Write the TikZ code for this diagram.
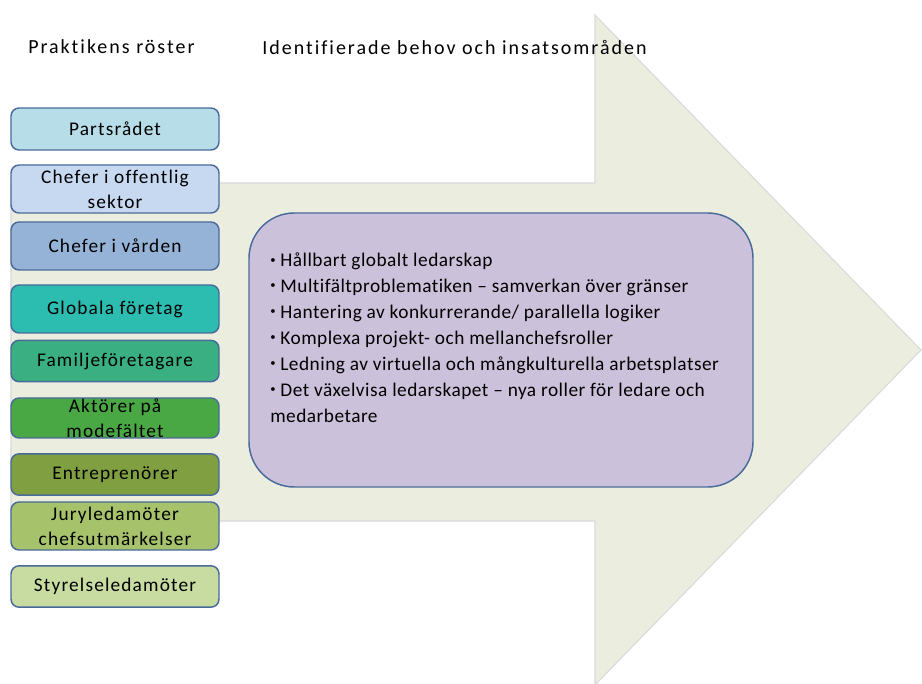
\documentclass[tikz,border=0pt]{standalone}
\usepackage{fontspec}
\setmainfont{Carlito}
\newfontfamily\headfont[LetterSpace=10, Ligatures=NoCommon]{Carlito}
\newfontfamily\rosterfont[LetterSpace=6, Ligatures=NoCommon]{Carlito}
\newfontfamily\behovfont[LetterSpace=2.5, Ligatures=NoCommon]{Carlito}
\usepackage{tikz}
\usetikzlibrary{positioning}

\definecolor{arrowfill}{HTML}{EBEEDF}
\definecolor{arrowline}{HTML}{D9D9D9}
\definecolor{rosterline}{HTML}{4A6A9C}
\definecolor{cPart}{HTML}{B7DDE8}
\definecolor{cOffentlig}{HTML}{C6D9F1}
\definecolor{cVarden}{HTML}{95B3D7}
\definecolor{cGlobal}{HTML}{2CBDB0}
\definecolor{cFamilj}{HTML}{3AAF82}
\definecolor{cAktor}{HTML}{4AA844}
\definecolor{cEntre}{HTML}{7F9F40}
\definecolor{cJury}{HTML}{A6C26B}
\definecolor{cStyrelse}{HTML}{C8DCA2}
\definecolor{behovfill}{HTML}{CCC1DA}

\newcommand{\pkt}{\raisebox{0.2em}{\fontsize{8}{8}\selectfont•}\hspace{0.25em}}

\tikzset{
	roster/.style={draw=rosterline, line width=1.1pt, rounded corners=6pt,
		minimum width=156pt, inner sep=0pt, align=center,
		font=\rosterfont\fontsize{14.5}{18.75}\selectfont},
	header/.style={anchor=west, inner sep=0pt, font=\headfont\fontsize{15}{17}\selectfont},
}

\begin{document}
\begin{tikzpicture}[x=0.75pt, y=-0.75pt]
				\useasboundingbox (0,0) rectangle (922,684);
				% the big arrow
				\draw[fill=arrowfill, draw=arrowline, line width=0.8pt]
					(11,183) -- (595,183) -- (595,15) -- (921,350) -- (595,685)
					-- (595,521) -- (11,521) -- cycle;
				% headers
				\node[header] (roster) at (28,47) {Praktikens röster};
				\node[header] (omraden) at (262,47) {Identifierade behov och insatsområden};
				% voices of practice
				\node[roster, fill=cPart, minimum height=31.5pt] (partsradet) at (115,129) {Partsrådet};
				\node[roster, fill=cOffentlig, minimum height=36pt] (offentlig) at (115,189) {Chefer i offentlig\\sektor};
				\node[roster, fill=cVarden, minimum height=36pt] (varden) at (115,246) {Chefer i vården};
				\node[roster, fill=cGlobal, minimum height=36pt] (globala) at (115,309) {Globala företag};
				\node[roster, fill=cFamilj, minimum height=31pt] (familj) at (115,361) {Familjeföretagare};
				\node[roster, fill=cAktor, minimum height=30pt] (aktorer) at (115,418) {Aktörer på\\modefältet};
				\node[roster, fill=cEntre, minimum height=31pt] (entrepren) at (115,474.5) {Entreprenörer};
				\node[roster, fill=cJury, minimum height=36pt] (jury) at (115,526) {Juryledamöter\\chefsutmärkelser};
				\node[roster, fill=cStyrelse, minimum height=31pt] (styrelse) at (115,586.5) {Styrelseledamöter};
				% needs
				\node[draw=rosterline, line width=1.1pt, fill=behovfill, rounded corners=34pt,
					minimum width=378pt, minimum height=205.5pt] (behov) at (501,350) {};
				\node[anchor=north west, inner sep=0pt, align=left,
					font=\behovfont\fontsize{14.5}{19.4}\selectfont] (punkter) at (270,253)
					{\pkt Hållbart globalt ledarskap\\
					\pkt Multifältproblematiken – samverkan över gränser\\
					\pkt Hantering av konkurrerande/ parallella logiker\\
					\pkt Komplexa projekt- och mellanchefsroller\\
					\pkt Ledning av virtuella och mångkulturella arbetsplatser\\
					\pkt Det växelvisa ledarskapet – nya roller för ledare och\\
					medarbetare};
			\end{tikzpicture}
\end{document}
